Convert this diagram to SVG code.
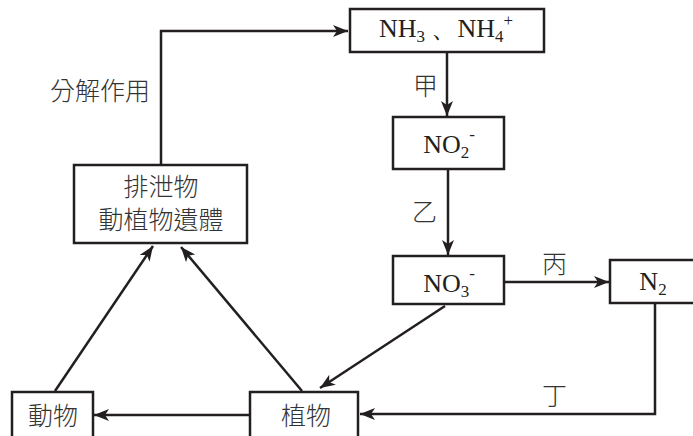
<svg xmlns="http://www.w3.org/2000/svg" width="693" height="436" viewBox="0 0 693 436">
<defs>
<marker id="ah" markerUnits="userSpaceOnUse" markerWidth="18" markerHeight="14" refX="15" refY="7" orient="auto">
<path d="M0,1 L15,7 L0,13 L4,7 Z" fill="#231f20"/>
</marker>
<style>
.box{fill:#fff;stroke:#231f20;stroke-width:2.5}
.ln{fill:none;stroke:#231f20;stroke-width:2.5}
.ar{fill:none;stroke:#231f20;stroke-width:2.5;marker-end:url(#ah)}
.chem{font-family:"Liberation Serif","Times New Roman",serif;font-size:26px;fill:#231f20}
.cjk{font-family:"Noto Sans CJK TC","Noto Sans CJK SC",sans-serif;font-size:25px;fill:#333;font-weight:300}
.sub{font-size:17px}
</style>
</defs>
<rect width="693" height="436" fill="#fff"/>
<g id="connectors">
<polyline class="ar" points="161,165 161,31 348,31"/>
<line class="ar" x1="447" y1="52" x2="447" y2="116"/>
<line class="ar" x1="448" y1="169" x2="448" y2="255"/>
<line class="ar" x1="504" y1="282" x2="609" y2="282"/>
<polyline class="ar" points="655,303 655,414 360,414"/>
<line class="ar" x1="445" y1="306" x2="320" y2="388"/>
<line class="ar" x1="250" y1="415" x2="94" y2="415"/>
<line class="ar" x1="55" y1="391" x2="153" y2="246"/>
<line class="ar" x1="302" y1="391" x2="181" y2="247"/>
<text class="cjk" x="50" y="100">分解作用</text>
<text class="cjk" x="413" y="95">甲</text>
<text class="cjk" x="412" y="221">乙</text>
<text class="cjk" x="542" y="273">丙</text>
<text class="cjk" x="542" y="405">丁</text>
</g>
<g id="nh3">
<rect class="box" x="350" y="9" width="194" height="43"/>
<text class="chem" x="446" y="37" text-anchor="middle">NH<tspan class="sub" dy="5">3</tspan><tspan dy="-5"> 、NH</tspan><tspan class="sub" dy="5">4</tspan><tspan class="sub" dy="-16">+</tspan></text>
</g>
<g id="no2">
<rect class="box" x="393" y="117" width="111" height="52"/>
<text class="chem" x="449" y="153" text-anchor="middle">NO<tspan class="sub" dy="5">2</tspan><tspan class="sub" dy="-18">-</tspan></text>
</g>
<g id="no3">
<rect class="box" x="393" y="256" width="111" height="48"/>
<text class="chem" x="449" y="292" text-anchor="middle">NO<tspan class="sub" dy="5">3</tspan><tspan class="sub" dy="-18">-</tspan></text>
</g>
<g id="n2">
<rect class="box" x="610" y="260" width="86" height="43"/>
<text class="chem" x="653" y="290" text-anchor="middle">N<tspan class="sub" dy="5">2</tspan></text>
</g>
<g id="excreta">
<rect class="box" x="74" y="165" width="173" height="78"/>
<text class="cjk" x="161" y="196" text-anchor="middle">排泄物</text>
<text class="cjk" x="161" y="229" text-anchor="middle">動植物遺體</text>
</g>
<g id="animal">
<rect class="box" x="12" y="392" width="81" height="46"/>
<text class="cjk" x="53" y="425" text-anchor="middle">動物</text>
</g>
<g id="plant">
<rect class="box" x="250" y="392" width="108" height="46"/>
<text class="cjk" x="306" y="425" text-anchor="middle">植物</text>
</g>
</svg>
